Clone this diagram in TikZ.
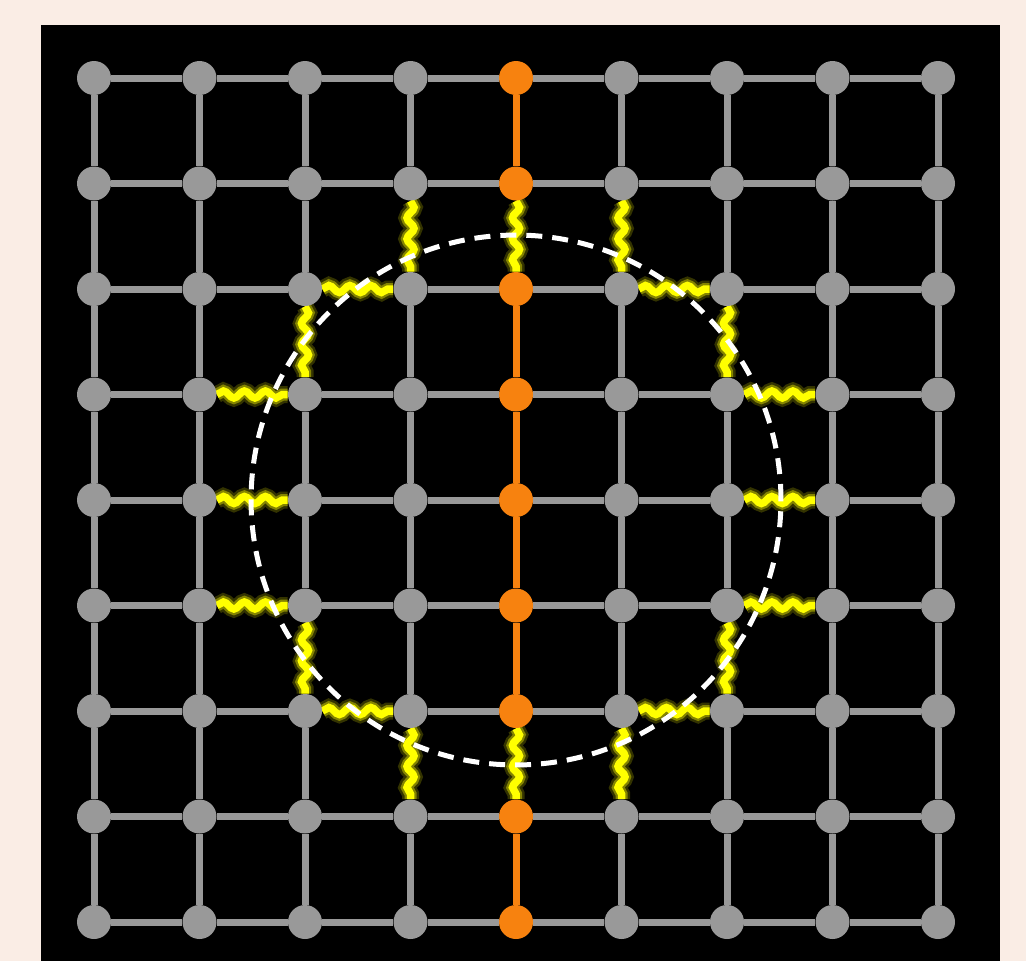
\documentclass[tikz,border=0pt]{standalone}
\usetikzlibrary{decorations.pathmorphing,backgrounds}
\definecolor{paper}{HTML}{FAEDE5}
\definecolor{vgray}{HTML}{999999}
\definecolor{vorange}{HTML}{F7820F}
\definecolor{cutyellow}{HTML}{FFFF00}
\tikzset{
  site/.style={circle,fill=vgray,minimum size=0.68cm,inner sep=0pt},
  axis/.style={site,fill=vorange},
  bond/.style={vgray,line width=0.14cm},
  wave/.style={decorate,decoration={snake,segment length=0.42cm,amplitude=0.07cm}},
}
\begin{document}
\begin{tikzpicture}[x=0.02cm,y=-0.02cm]
% lattice sites
\foreach \i in {0,1,2,3,5,6,7,8}
  \foreach \j in {0,...,8}
    \node[site] (n\i-\j) at ({94+105.5*\i},{78+105.5*\j}) {};
\foreach \j in {0,...,8}
  \node[axis] (n4-\j) at ({94+105.5*4},{78+105.5*\j}) {};
\begin{scope}[on background layer]
\fill[paper] (0,0) rectangle (1026,961);
\fill[black] (40.5,25) rectangle (1000,961);
\foreach \i [evaluate=\i as \k using int(\i+1)] in {0,...,7}
  \foreach \j in {0,...,8} {
    \draw[bond] (n\i-\j) -- (n\k-\j);
    \draw[bond] (n\j-\i) -- (n\j-\k);
  }
\foreach \j [evaluate=\j as \k using int(\j+1)] in {0,...,7}
  \draw[bond,vorange] (n4-\j) -- (n4-\k);
% cut bonds
\foreach \a/\b in {3-1/3-2,4-1/4-2,5-1/5-2,2-2/2-3,6-2/6-3,2-5/2-6,6-5/6-6,
    3-6/3-7,4-6/4-7,5-6/5-7,2-2/3-2,5-2/6-2,1-3/2-3,6-3/7-3,1-4/2-4,
    6-4/7-4,1-5/2-5,6-5/7-5,2-6/3-6,5-6/6-6} {
  \draw[black,line width=0.2cm] (n\a) -- (n\b);
  \draw[wave,cutyellow,opacity=0.2,line width=0.34cm] (n\a) -- (n\b);
  \draw[wave,cutyellow,opacity=0.4,line width=0.24cm] (n\a) -- (n\b);
  \draw[wave,cutyellow,line width=0.15cm] (n\a) -- (n\b);
}
\end{scope}
\draw[white,line width=0.1cm,dash pattern=on 0.32cm off 0.2cm] (n4-4) circle[radius=5.3cm];
\end{tikzpicture}
\end{document}
